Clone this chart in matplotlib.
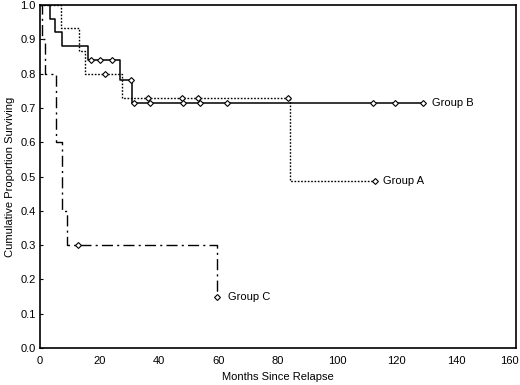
import matplotlib
matplotlib.use("Agg")
import matplotlib.pyplot as plt
import matplotlib.transforms as mtransforms

plt.rcParams['font.family'] = ['Liberation Sans', 'DejaVu Sans']

# Group A (dotted)
a_times = [0, 7.0, 13.0, 15.0, 27.4, 84.0, 112.6]
a_surv = [1.0, 0.933, 0.867, 0.800, 0.730, 0.488, 0.488]
a_cens_t = [22.0, 36.4, 47.6, 53.2, 83.4, 112.6]
a_cens_s = [0.800, 0.730, 0.730, 0.730, 0.730, 0.488]

# Group B (solid)
b_times = [0, 3.4, 5.0, 7.5, 16.2, 27.0, 31.0, 128.9]
b_surv = [1.0, 0.96, 0.92, 0.88, 0.84, 0.78, 0.714, 0.714]
b_cens_t = [17.1, 20.0, 24.3, 30.5, 31.6, 37.0, 48.2, 53.8, 63.0, 112.0, 119.3, 128.9]
b_cens_s = [0.84, 0.84, 0.84, 0.78, 0.714, 0.714, 0.714, 0.714, 0.714, 0.714, 0.714, 0.714]

# Group C (dash-dot)
c_times = [0, 0.5, 1.7, 5.2, 7.5, 9.2, 59.5, 59.5]
c_surv = [1.0, 0.9, 0.8, 0.6, 0.4, 0.3, 0.15, 0.15]
c_cens_t = [12.9, 59.5]
c_cens_s = [0.3, 0.15]

labels = ["Group A", "Group B", "Group C"]
label_x = [115.3, 131.7, 63.2]
label_y = [0.488, 0.714, 0.15]

x_ticks = [0, 20, 40, 60, 80, 100, 120, 140, 160]
y_ticks = [0.0, 0.1, 0.2, 0.3, 0.4, 0.5, 0.6, 0.7, 0.8, 0.9, 1.0]

fig = plt.figure(figsize=(5.2, 3.85), dpi=100)
ax = fig.add_axes([0.077, 0.096, 0.915, 0.891])

ax.step(a_times, a_surv, where='post', color='black', lw=1.0, linestyle=(0, (1.2, 1.2)))
ax.step(b_times, b_surv, where='post', color='black', lw=1.1, linestyle='-')
ax.step(c_times, c_surv, where='post', color='black', lw=1.0, linestyle=(0, (8, 3, 1.5, 3)))

mk = dict(marker='D', markersize=3.0, markerfacecolor='white', markeredgecolor='black',
          markeredgewidth=0.8, linestyle='none', zorder=3)
ax.plot(a_cens_t, a_cens_s, **mk)
ax.plot(b_cens_t, b_cens_s, **mk)
ax.plot(c_cens_t, c_cens_s, **mk)

for lab, lx, ly in zip(labels, label_x, label_y):
    ax.text(lx, ly, lab, fontsize=8, va='center', ha='left')

ax.set_xlim(0, 160)
ax.set_ylim(0, 1.0)
ax.set_xticks(x_ticks)
ax.set_xticklabels([str(v) for v in x_ticks])
ax.set_yticks(y_ticks)
ax.set_yticklabels([f"{v:.1f}" for v in y_ticks])
ax.tick_params(axis='x', length=0, labelsize=8, pad=6)
ax.tick_params(axis='y', direction='in', length=2, labelsize=8, pad=3)
for s in ax.spines.values():
    s.set_linewidth(1.2)

# keep the last x tick label inside the figure
last = ax.get_xticklabels()[-1]
last.set_transform(last.get_transform() + mtransforms.ScaledTranslation(-6 / 100, 0, fig.dpi_scale_trans))

ax.set_xlabel("Months Since Relapse", fontsize=8, labelpad=4)
ax.set_ylabel("Cumulative Proportion Surviving", fontsize=8, labelpad=4)

fig.savefig("out.png", dpi=100)
